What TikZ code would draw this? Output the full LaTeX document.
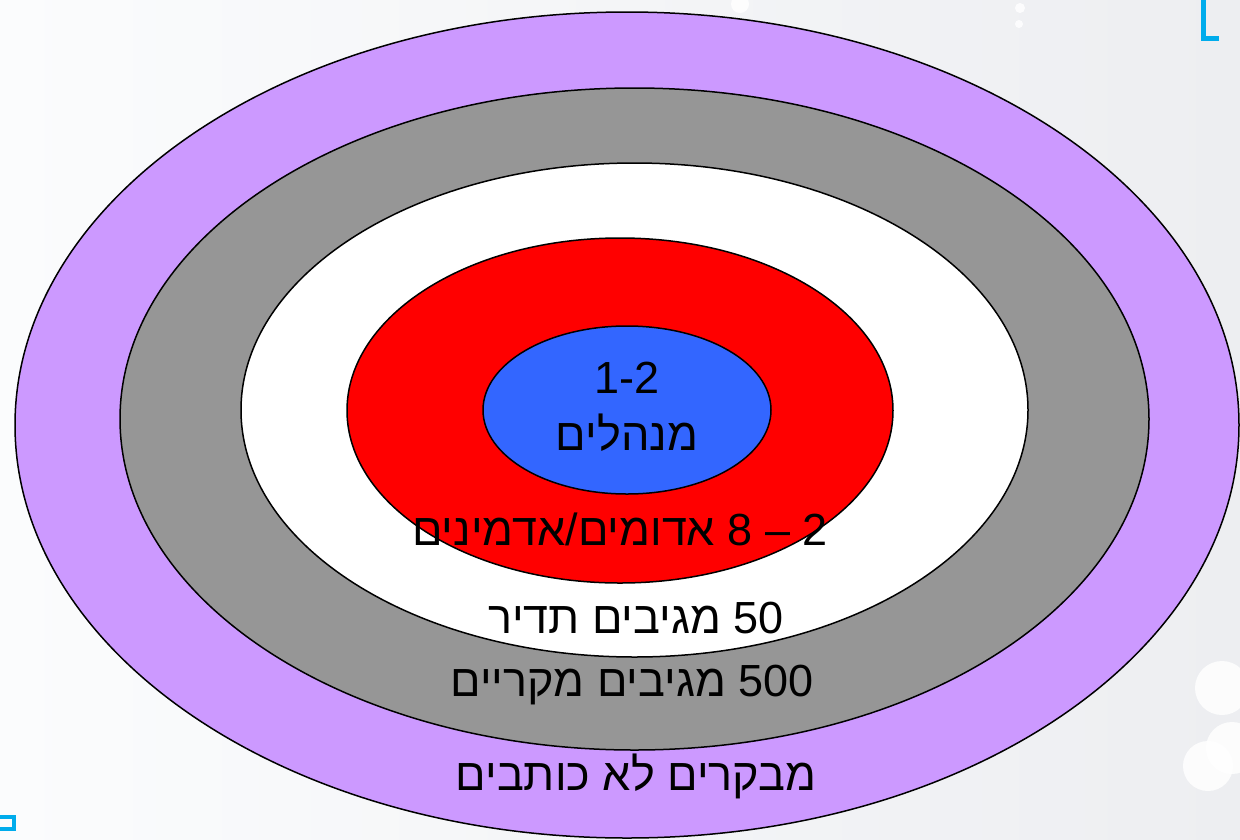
\documentclass[tikz,border=0pt]{standalone}
\usepackage{fontspec}
\setmainfont{Liberation Sans}
\newfontfamily\hebfont[Script=Hebrew]{Liberation Sans}
\TeXXeTstate=1
\usepackage{tikz}
\usetikzlibrary{positioning}
\definecolor{ringpurple}{RGB}{204,153,255}
\definecolor{ringgray}{RGB}{150,150,150}
\definecolor{ringred}{RGB}{255,0,0}
\definecolor{ringblue}{RGB}{51,102,255}
\definecolor{logoblue}{RGB}{0,172,236}
\definecolor{bgleft}{RGB}{251,252,253}
\definecolor{bgright}{RGB}{237,238,241}

\tikzset{
  ring/.style={draw=black,line width=1.5pt},
  ringtext/.style={font=\hebfont\fontsize{45}{50}\selectfont,anchor=base,inner sep=0pt},
  blob/.style={fill=white,opacity=.85}
}

\begin{document}
\begin{tikzpicture}[x=1pt,y=-1pt]
\clip (0,0) rectangle (1240,839);
\shade[left color=bgleft,right color=bgright] (0,0) rectangle (1240,839);
% background spots
\fill[blob] (1222,688) circle (27);
\fill[blob] (1208,766) circle (25);
\fill[blob] (1232,748) circle (26);
\fill[blob] (740,4) circle (9);
\fill[blob] (1020,8) circle (5);
\fill[blob] (1019,24) circle (4);
\draw[logoblue,line width=5pt] (1219,38) -- (1203,38) -- (1203,-2);
\draw[logoblue,line width=4pt] (0,817) -- (14,817) -- (14,829) -- (0,829);
% rings, outside in
\draw[ring,fill=ringpurple] (627,425) ellipse [x radius=612,y radius=413];
\draw[ring,fill=ringgray] (634.5,419) ellipse [x radius=514.5,y radius=331];
\draw[ring,fill=white] (634.5,410) ellipse [x radius=393.5,y radius=247];
\draw[ring,fill=ringred] (620,410.5) ellipse [x radius=273,y radius=172.5];
\draw[ring,fill=ringblue] (627,410) ellipse [x radius=144,y radius=84];
\node[ringtext] (range) at (627,393) {1-2};
\node[ringtext] (managers) at (627,450) {\beginR מנהלים\endR};
\node[ringtext] (admins) at (620,545) {\beginR 2 – 8 אדומים/אדמינים\endR};
\node[ringtext] (regulars) at (636,633) {\beginR 50 מגיבים תדיר\endR};
\node[ringtext] (casuals) at (632,696) {\beginR 500 מגיבים מקריים\endR};
\node[ringtext] (readers) at (636,790) {\beginR מבקרים לא כותבים\endR};
\end{tikzpicture}
\end{document}
